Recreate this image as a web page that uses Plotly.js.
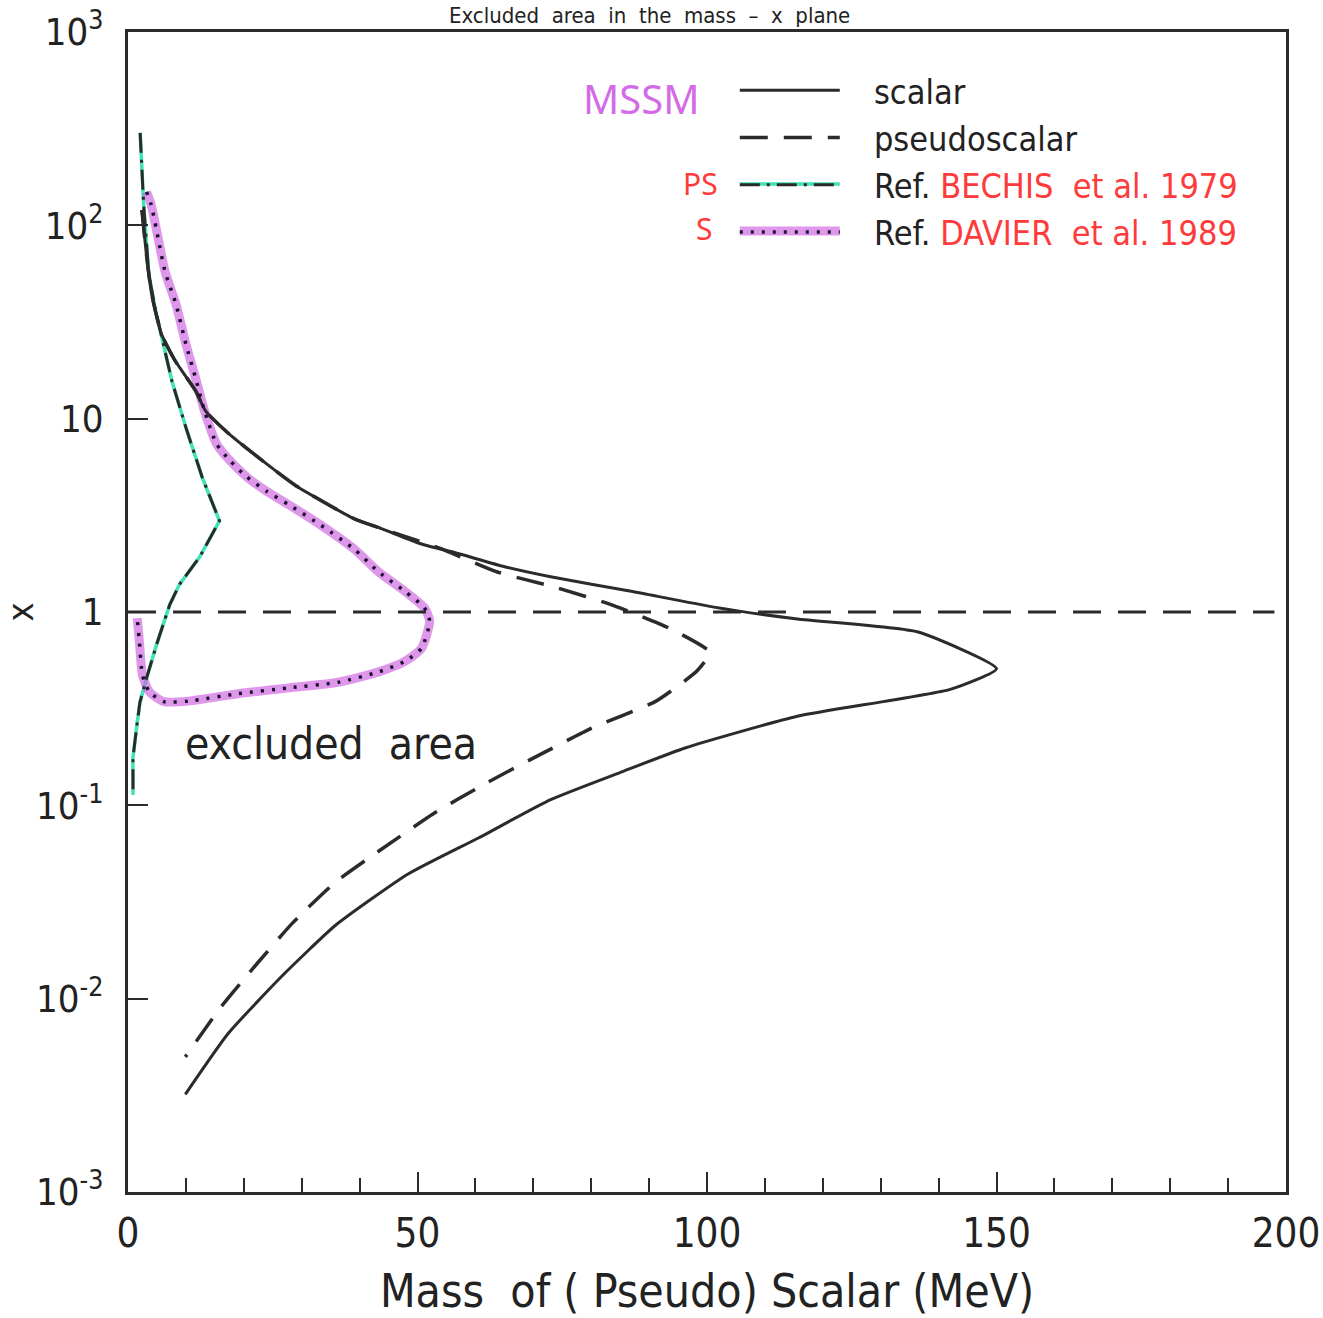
<!DOCTYPE html>
<html>
<head>
<meta charset="utf-8">
<script src="https://cdn.plot.ly/plotly-3.0.1.min.js"></script>
<style>
  html, body { margin: 0; padding: 0; background: #ffffff; }
  #chart { width: 1323px; height: 1318px; }
</style>
</head>
<body>
<div id="chart"></div>
<script>
// ---- data ----
const massScalar = [2.4, 3.2, 4.1, 5.8, 8.2, 11.7, 13.4, 17.4, 23.1, 29.0, 39.1, 43.8, 50.8, 56.4, 65.2, 73.0, 86.9, 101.2, 115.6, 136.3, 150.0, 142.0, 115.6, 96.2, 85.3, 73.0, 60.6, 48.3, 35.8, 26.6, 17.3, 9.9];
const xScalar    = [120, 70, 43.8, 27.3, 19.8, 13.9, 10.96, 8.36, 6.1, 4.5, 3.03, 2.7, 2.24, 2.03, 1.71, 1.52, 1.28, 1.06, 0.92, 0.79, 0.509, 0.398, 0.289, 0.198, 0.149, 0.107, 0.068, 0.044, 0.0239, 0.0131, 0.0066, 0.0032];

const massPseudo = [2.4, 3.2, 4.1, 5.8, 8.2, 11.7, 13.4, 17.4, 23.1, 29.0, 39.1, 43.8, 53.8, 63.8, 73.9, 83.9, 93.3, 100.5, 98.3, 91.2, 80.0, 70.4, 61.8, 52.6, 43.9, 35.8, 28.4, 22.3, 16.1, 9.9];
const xPseudo    = [120, 70, 43.8, 27.3, 19.8, 13.9, 10.96, 8.36, 6.1, 4.5, 3.03, 2.7, 2.14, 1.61, 1.34, 1.08, 0.83, 0.618, 0.497, 0.346, 0.25, 0.178, 0.13, 0.09, 0.0596, 0.04, 0.0246, 0.0152, 0.0091, 0.005];

const massBechis = [2.1, 2.7, 3.6, 4.8, 7.6, 10.0, 12.8, 15.8, 12.4, 8.9, 7.2, 4.95, 3.25, 2.05, 1.54, 0.85, 0.87];
const xBechis    = [301, 128, 55.6, 35.8, 15.6, 9.0, 4.99, 2.96, 1.93, 1.39, 1.09, 0.68, 0.46, 0.34, 0.26, 0.176, 0.113];

const massDavier = [3.2, 4.0, 6.4, 8.3, 10.0, 11.8, 13.2, 15.3, 17.6, 20.5, 24.0, 27.7, 33.4, 39.1, 43.3, 47.8, 51.2, 52.1, 50.7, 47.8, 43.3, 36.3, 27.7, 19.0, 10.4, 6.2, 3.7, 2.5, 1.97, 1.6];
const xDavier    = [149, 128, 57.7, 39, 24.3, 15.7, 11.0, 7.4, 6.07, 5.0, 4.2, 3.6, 2.8, 2.11, 1.61, 1.28, 1.05, 0.90, 0.65, 0.555, 0.49, 0.433, 0.405, 0.378, 0.346, 0.344, 0.386, 0.472, 0.70, 0.93];

const massRefLine = [0, 198];
const xRefLine    = [1, 1];

const yTickVals = [0.001, 0.01, 0.1, 1, 10, 100, 1000];
const yTickText = ['10<sup>-3</sup>', '10<sup>-2</sup>', '10<sup>-1</sup>', '1', '10', '10<sup>2</sup>', '10<sup>3</sup>'];
const xTickVals = [0, 50, 100, 150, 200];
const xTickText = ['0', '50', '100', '150', '200'];

// ---- style ----
const FONT = '"DejaVu Sans Condensed", "DejaVu Sans", sans-serif';
const INK = '#2b2b2b';
const RED = '#ff3a3a';
const GREEN = '#3fe3b6';
const PURPLE = 'rgba(205,95,225,0.65)';
const SP = '\u00a0\u00a0\u00a0';
const NB = '\u00a0\u00a0\u00a0\u00a0\u00a0';

const traces = [
  { x: massBechis, y: xBechis, mode: 'lines', name: '\u00a0', legend: 'legend',
    line: { color: GREEN, width: 3.5 }, hoverinfo: 'skip' },
  { x: massDavier, y: xDavier, mode: 'lines', name: '\u00a0\u00a0', legend: 'legend',
    line: { color: PURPLE, width: 9, shape: 'spline', smoothing: 0.6 }, hoverinfo: 'skip' },
  { x: massRefLine, y: xRefLine, mode: 'lines', showlegend: false,
    line: { color: INK, width: 3, dash: '28px,17px' } },
  { x: massScalar, y: xScalar, mode: 'lines', name: SP + 'scalar', legend: 'legend2',
    line: { color: INK, width: 3, shape: 'spline', smoothing: 0.5 } },
  { x: massPseudo, y: xPseudo, mode: 'lines', name: SP + 'pseudoscalar', legend: 'legend2',
    line: { color: INK, width: 3.5, dash: '28px,16px', shape: 'spline', smoothing: 0.5 } },
  { x: massBechis, y: xBechis, mode: 'lines', legend: 'legend2',
    name: SP + 'Ref. <span style="color:' + RED + '">BECHIS  et al. 1979</span>',
    line: { color: INK, width: 3, dash: '20px,7px,3px,7px' } },
  { x: massDavier, y: xDavier, mode: 'lines', legend: 'legend2',
    name: SP + 'Ref. <span style="color:' + RED + '">DAVIER  et al. 1989</span>',
    line: { color: '#1c1230', width: 3.5, dash: '3px,8px', shape: 'spline', smoothing: 0.6 } }
];

const legendFont = { family: FONT, size: 34, color: '#222' };
const ROW = 46.8;
const LEG_TOP = 0.9744;

const layout = {
  width: 1323, height: 1318,
  margin: { l: 128, r: 37, t: 32, b: 126 },
  paper_bgcolor: '#ffffff', plot_bgcolor: '#ffffff',
  font: { family: FONT, color: '#222' },
  showlegend: true,
  legend: {
    x: 0.524, xanchor: 'left', y: LEG_TOP - 2 * ROW / 1160, yanchor: 'top',
    bgcolor: 'rgba(0,0,0,0)', borderwidth: 0,
    itemwidth: 100, font: legendFont, traceorder: 'normal'
  },
  legend2: {
    x: 0.524, xanchor: 'left', y: LEG_TOP, yanchor: 'top',
    bgcolor: 'rgba(0,0,0,0)', borderwidth: 0,
    itemwidth: 100, font: legendFont, traceorder: 'normal'
  },
  xaxis: {
    range: [0, 200], showgrid: false, zeroline: false,
    showline: true, linecolor: INK, linewidth: 3, mirror: true,
    ticks: 'inside', ticklen: 20, tickwidth: 2, tickcolor: INK,
    tickvals: xTickVals, ticktext: xTickText,
    ticklabelstandoff: 4,
    tickfont: { family: FONT, size: 40, color: '#222' },
    minor: { dtick: 10, ticks: 'inside', ticklen: 14, tickwidth: 2, tickcolor: INK, showgrid: false },
    title: { text: 'Mass  of ( Pseudo) Scalar (MeV)' + NB, font: { family: FONT, size: 46, color: '#222' }, standoff: 20 }
  },
  yaxis: {
    type: 'log', range: [-3, 3], showgrid: false, zeroline: false,
    showline: true, linecolor: INK, linewidth: 3, mirror: true,
    ticks: 'inside', ticklen: 20, tickwidth: 2, tickcolor: INK,
    tickvals: yTickVals, ticktext: yTickText,
    ticklabelstandoff: 14,
    tickfont: { family: FONT, size: 38, color: '#222' },
    title: { text: 'x', font: { family: FONT, size: 36, color: '#222' }, standoff: 40 }
  },
  annotations: [
    { xref: 'paper', yref: 'paper', x: 0.443, y: 0.968, text: 'MSSM', showarrow: false,
      font: { family: 'Noto Sans, sans-serif', size: 40, color: '#d36be6' } },
    { xref: 'paper', yref: 'paper', x: 0.494, y: 0.889, text: 'PS', showarrow: false,
      font: { family: 'Noto Sans, sans-serif', size: 30, color: RED } },
    { xref: 'paper', yref: 'paper', x: 0.497, y: 0.850, text: 'S', showarrow: false,
      font: { family: 'Noto Sans, sans-serif', size: 30, color: RED } },
    { xref: 'x', yref: 'y', x: 35, y: Math.log10(0.21), xanchor: 'center', text: 'excluded  area', showarrow: false,
      font: { family: FONT, size: 44, color: '#222' } },
    { xref: 'paper', yref: 'paper', x: 0.45, y: 1.0, yanchor: 'bottom', yshift: 2,
      text: 'Excluded  area  in  the  mass  \u2013  x  plane', showarrow: false,
      font: { family: FONT, size: 22, color: '#222' } }
  ]
};

Plotly.newPlot('chart', traces, layout, { displayModeBar: false, staticPlot: true });
</script>
</body>
</html>
